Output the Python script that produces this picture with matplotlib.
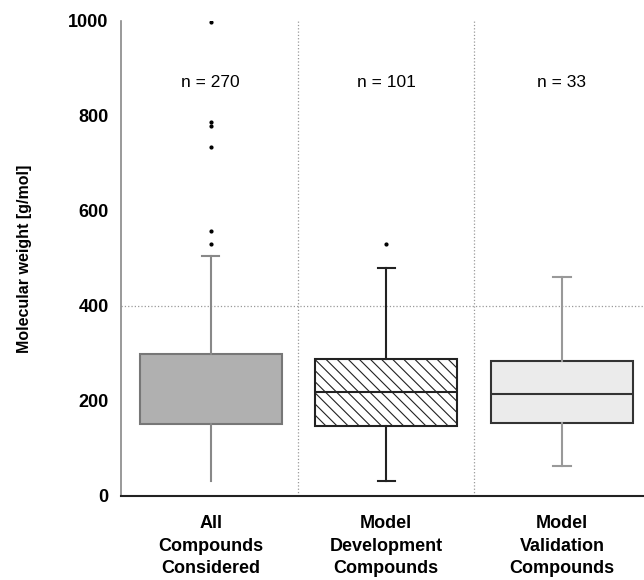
import matplotlib
matplotlib.use("Agg")
import matplotlib.pyplot as plt
from matplotlib import font_manager

plt.rcParams['font.family'] = ['Liberation Sans', 'DejaVu Sans']
plt.rcParams['hatch.linewidth'] = 0.8
plt.rcParams['hatch.color'] = '#444444'

# box statistics (g/mol)
groups = ["All\nCompounds\nConsidered", "Model\nDevelopment\nCompounds", "Model\nValidation\nCompounds"]
counts = [270, 101, 33]
q1 = [151, 147, 153]
medians = [225, 218, 215]
q3 = [299, 288, 285]
whisker_low = [32, 32, 62]
whisker_high = [505, 479, 460]
outliers = [[998, 787, 778, 735, 558, 531], [531], []]

fills = ["#b0b0b0", "white", "#ebebeb"]
edges = ["#777777", "#222222", "#333333"]
whisker_colors = ["#888888", "#222222", "#999999"]
hatches = [None, "\\\\\\", None]

names = {f.name for f in font_manager.fontManager.ttflist}
narrow = "Liberation Sans Narrow" if "Liberation Sans Narrow" in names else "Liberation Sans"

fig = plt.figure(figsize=(6.44, 5.8), dpi=100)
ax = fig.add_axes([0.188, 0.145, 0.81, 0.819])

for i in range(3):
    stats = [{
        "med": medians[i], "q1": q1[i], "q3": q3[i],
        "whislo": whisker_low[i], "whishi": whisker_high[i],
        "fliers": outliers[i],
    }]
    art = ax.bxp(stats, positions=[i + 1], widths=0.81, patch_artist=True,
                 showfliers=True, capwidths=[0.1],
                 boxprops=dict(facecolor=fills[i], edgecolor=edges[i], linewidth=1.5,
                               hatch=hatches[i]),
                 medianprops=dict(color=edges[i], linewidth=1.5),
                 whiskerprops=dict(color=whisker_colors[i], linewidth=1.5),
                 capprops=dict(color=whisker_colors[i], linewidth=1.5),
                 flierprops=dict(marker="o", markersize=2, markerfacecolor="black",
                                 markeredgecolor="black", linestyle="none"))
    if i == 0:
        # first group: no median line and no lower cap
        art["medians"][0].set_visible(False)
        art["caps"][0].set_visible(False)
    ax.text(i + 1, 871, f"n = {counts[i]}", ha="center", va="center", fontsize=12.5)

ax.set_xlim(0.49, 3.46)
ax.set_ylim(0, 1000)
ax.set_yticks([0, 200, 400, 600, 800, 1000])
ax.set_xticks([1, 2, 3])
ax.set_xticklabels(groups, fontsize=13, fontweight="bold", linespacing=1.4,
                   family=[narrow, "DejaVu Sans"])
ax.tick_params(axis="x", length=0, pad=14)
ax.tick_params(axis="y", length=0, pad=9)
for lbl in ax.get_yticklabels():
    lbl.set_fontweight("bold")
    lbl.set_fontsize(13)

ax.axhline(400, color="#999999", linestyle=":", linewidth=0.9, zorder=0)
for xs in [1.5, 2.5]:
    ax.axvline(xs, color="#999999", linestyle=":", linewidth=0.9, zorder=0)

ax.spines["top"].set_visible(False)
ax.spines["right"].set_visible(False)
ax.spines["left"].set_color("#888888")
ax.spines["left"].set_linewidth(1.2)
ax.spines["bottom"].set_color("#222222")
ax.spines["bottom"].set_linewidth(1.5)

ax.set_ylabel("Molecular weight [g/mol]", fontsize=11.5, fontweight="bold", labelpad=26,
              family=[narrow, "DejaVu Sans"])

fig.savefig("out.png", dpi=100)
